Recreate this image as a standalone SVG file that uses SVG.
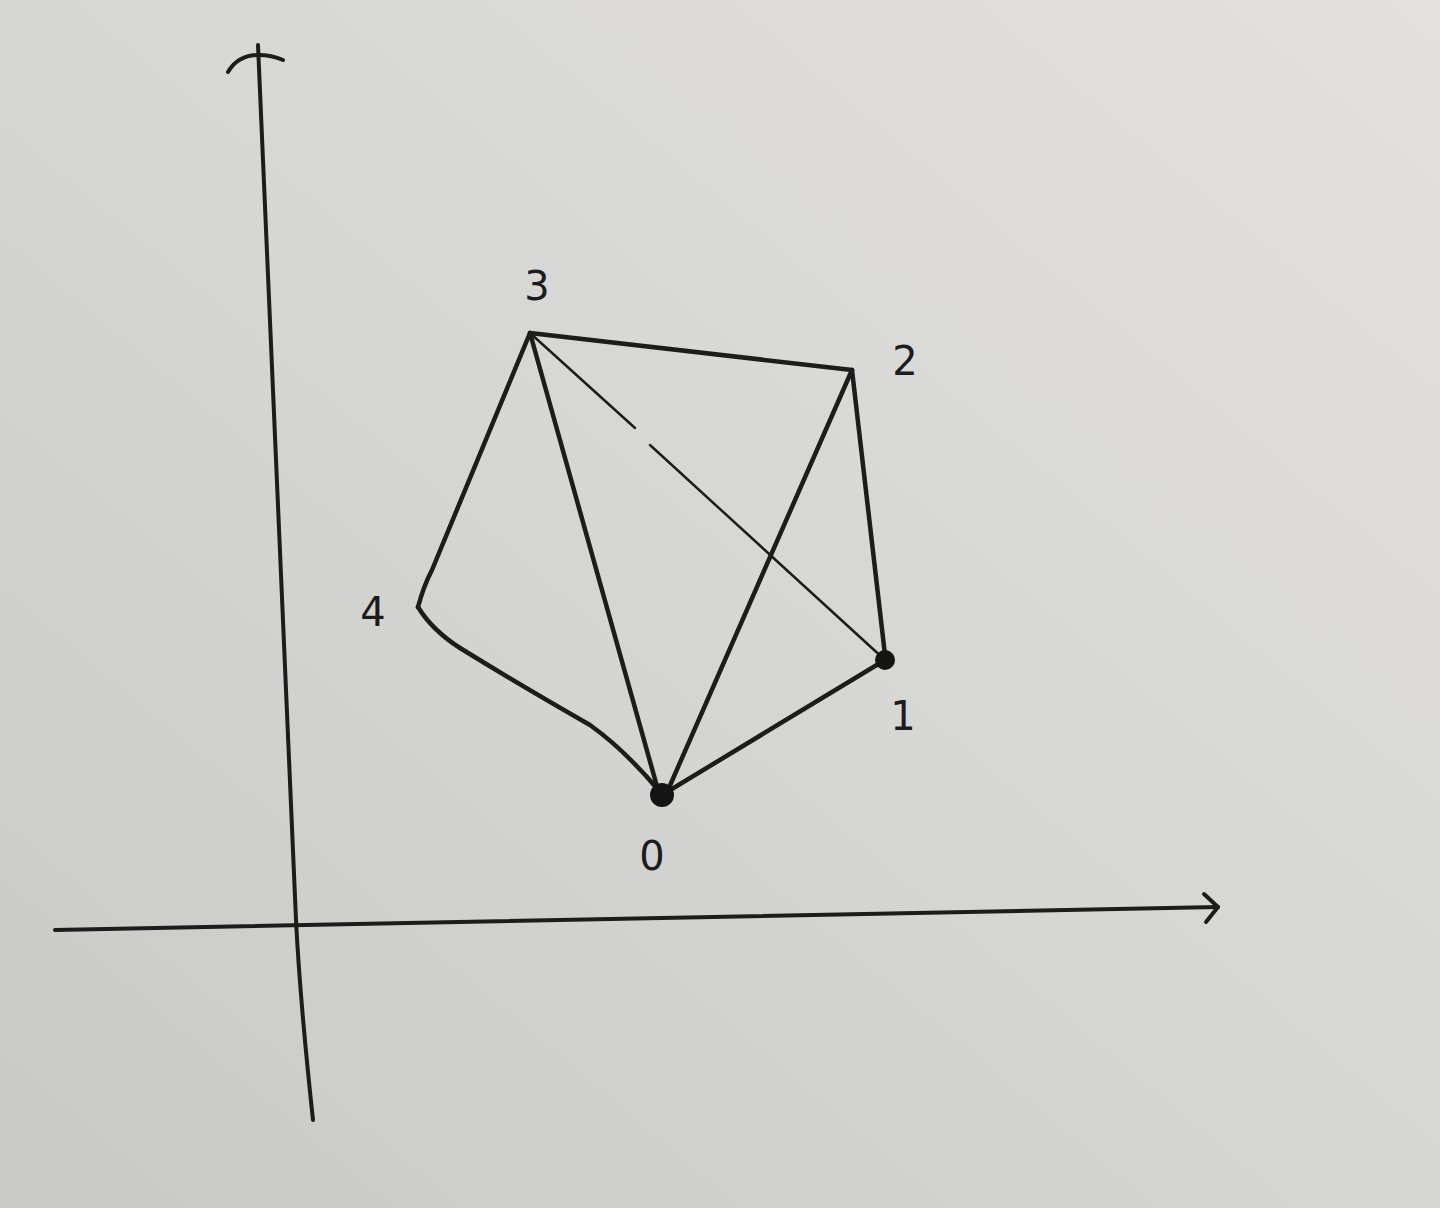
<svg xmlns="http://www.w3.org/2000/svg" width="1440" height="1208" viewBox="0 0 1440 1208">
<defs>
<linearGradient id="paper" x1="0" y1="1" x2="1" y2="0">
<stop offset="0" stop-color="#c9c9c6"/>
<stop offset="0.5" stop-color="#d6d6d4"/>
<stop offset="1" stop-color="#e2e1df"/>
</linearGradient>
<style>
.ink{fill:none;stroke:#1c1c1c;stroke-linecap:round;stroke-linejoin:round}
.edge{stroke-width:4.5}
.thin{stroke-width:2.5}
.axis{stroke-width:4}
.lbl{font-family:"DejaVu Sans",sans-serif;font-size:40px;fill:#1c1c1c;text-anchor:middle}
.dot{fill:#141414}
</style>
</defs>
<rect width="1440" height="1208" fill="url(#paper)"/>
<g id="axes">
<path class="ink axis" d="M313,1120 Q300,1000 296,920 L258,45"/>
<path class="ink axis" d="M228,72 Q238,55 258,55 Q272,55 283,60"/>
<path class="ink axis" d="M55,930 L1218,907"/>
<path class="ink axis" d="M1204,894 L1218,907 L1206,922"/>
</g>
<g id="connectors">
<path class="ink edge" d="M530,333 L852,370"/>
<path class="ink edge" d="M852,370 L885,655"/>
<path class="ink edge" d="M885,660 L662,795"/>
<path class="ink edge" d="M418,607 Q432,630 460,648 Q520,685 590,725 Q625,750 660,792"/>
<path class="ink edge" d="M418,607 Q424,585 432,570 L530,333"/>
<path class="ink edge" d="M530,333 L658,790"/>
<path class="ink edge" d="M852,370 L668,790"/>
<path class="ink thin" d="M530,333 L635,428"/>
<path class="ink thin" d="M650,445 L885,660"/>
</g>
<g id="node-0">
<circle class="dot" cx="662" cy="795" r="12"/>
<text class="lbl" x="652" y="870">0</text>
</g>
<g id="node-1">
<circle class="dot" cx="885" cy="660" r="10"/>
<text class="lbl" x="903" y="730">1</text>
</g>
<g id="node-2">
<text class="lbl" x="905" y="375">2</text>
</g>
<g id="node-3">
<text class="lbl" x="537" y="300">3</text>
</g>
<g id="node-4">
<text class="lbl" x="373" y="626">4</text>
</g>
</svg>
